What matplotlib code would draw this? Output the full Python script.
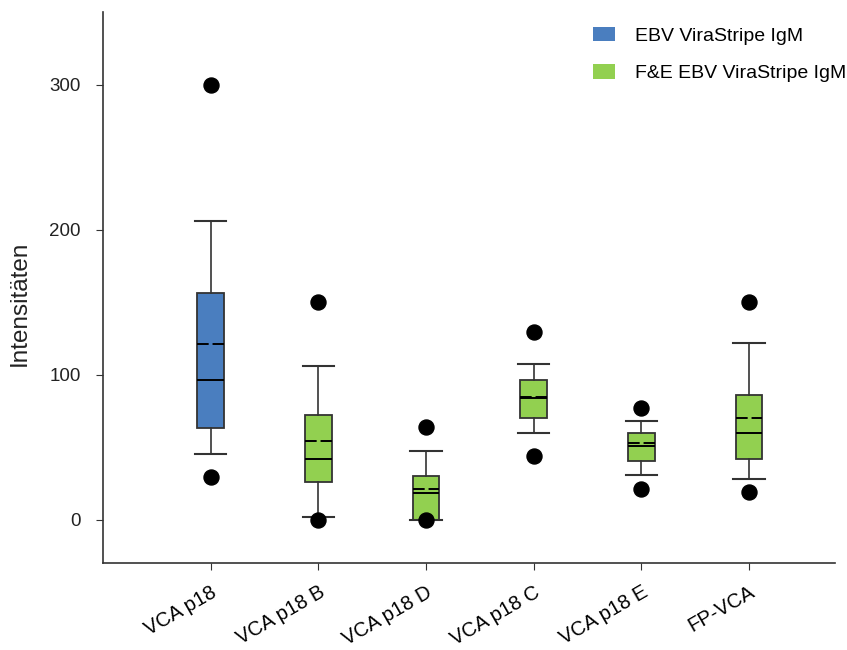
import matplotlib
matplotlib.use("Agg")
import matplotlib.pyplot as plt
import matplotlib.patches as patches
import matplotlib.transforms as mtransforms

plt.rcParams['font.family'] = ['Liberation Sans', 'DejaVu Sans']

# Data
labels = ['VCA p18', 'VCA p18 B', 'VCA p18 D', 'VCA p18 C', 'VCA p18 E', 'FP-VCA']
whislo = [45.5, 2, 0, 60, 31, 28]
q1 = [63, 26, 0, 70, 40.5, 42]
medians = [96, 42, 18.6, 84, 50.5, 60]
means = [121, 54, 21, 84.5, 53, 70]
q3 = [156, 72, 30, 96, 60, 86]
whishi = [206, 106, 47, 107, 68, 121.5]
fliers = [[300, 29], [150, 0], [64, 0], [129, 44], [77, 21], [150, 19]]
groups = [0, 1, 1, 1, 1, 1]
legend_labels = ['EBV ViraStripe IgM', 'F&E EBV ViraStripe IgM']
colors = ['#4a7ebf', '#92d050']

stats = []
for i in range(len(labels)):
    stats.append({'label': labels[i], 'whislo': whislo[i], 'q1': q1[i], 'med': medians[i],
                  'mean': means[i], 'q3': q3[i], 'whishi': whishi[i], 'fliers': fliers[i]})

fig = plt.figure(figsize=(8.47, 6.5), dpi=100)
ax = fig.add_axes([0.1216, 0.1338, 0.8644, 0.8477])

edge = '#333333'
bp = ax.bxp(stats, positions=range(1, len(labels) + 1), widths=0.25, patch_artist=True,
            showmeans=True, meanline=True, showfliers=True,
            boxprops=dict(edgecolor=edge, linewidth=1.3),
            whiskerprops=dict(color=edge, linewidth=1.2),
            capprops=dict(color=edge, linewidth=1.5),
            medianprops=dict(color='black', linewidth=1.4),
            meanprops=dict(color='black', linewidth=1.4, linestyle=(0, (6, 2))),
            flierprops=dict(marker='o', markerfacecolor='black', markeredgecolor='black',
                            markersize=10.8))

for box, g in zip(bp['boxes'], groups):
    box.set_facecolor(colors[g])
for cap in bp['caps']:
    x = cap.get_xdata()
    c = (x[0] + x[1]) / 2
    cap.set_xdata([c - 0.147, c + 0.147])

ax.set_xlim(0, 6.8)
ax.set_ylim(-30, 350)
ax.set_yticks([0, 100, 200, 300])
ax.set_xticks(range(1, len(labels) + 1))
ax.set_xticklabels(labels, rotation=30, ha='right', rotation_mode='anchor', fontsize=14.5)
shift = mtransforms.ScaledTranslation(5 / 100, 0, fig.dpi_scale_trans)
for lbl in ax.get_xticklabels():
    lbl.set_transform(lbl.get_transform() + shift)
ax.tick_params(axis='y', labelsize=13.5, length=5, pad=11, colors='#333333', labelcolor='#222222')
ax.tick_params(axis='x', length=5, pad=9, colors='#333333', labelcolor='black')
ax.set_ylabel('Intensitäten', fontsize=17.5, color='#222222')
ax.yaxis.set_label_coords(-0.098, 0.472)

for s in ['top', 'right']:
    ax.spines[s].set_visible(False)
for s in ['left', 'bottom']:
    ax.spines[s].set_color('#333333')
    ax.spines[s].set_linewidth(1.2)

handles = [patches.Patch(facecolor=c, edgecolor='none') for c in colors]
fig.legend(handles, legend_labels, loc='upper left', bbox_to_anchor=(593 / 847, 1 - 27 / 650),
           frameon=False, borderpad=0, borderaxespad=0, fontsize=14,
           handlelength=1.15, handleheight=0.75, handletextpad=1.0, labelspacing=1.0)

fig.savefig('out.png', dpi=100)
